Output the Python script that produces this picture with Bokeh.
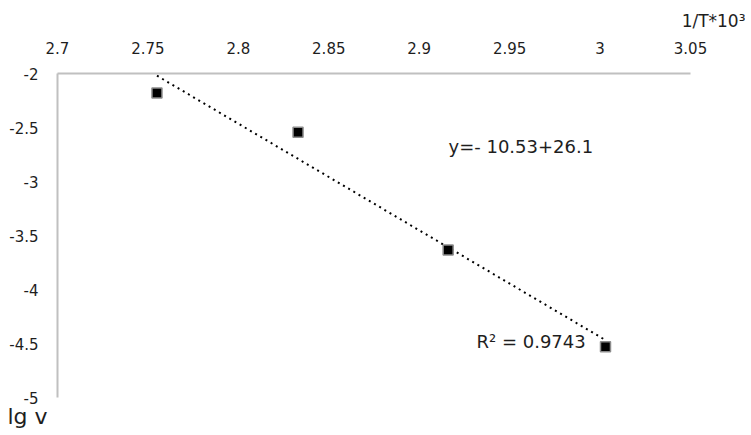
import numpy as np
from bokeh.plotting import figure
from bokeh.models import LinearAxis, FixedTicker, Label, Range1d, Title
from bokeh.embed import file_html
from bokeh.resources import INLINE

# data
inv_T = [2.755, 2.833, 2.916, 3.003]
lg_v = [-2.18, -2.545, -3.634, -4.53]
x_ticks = [2.7, 2.75, 2.8, 2.85, 2.9, 2.95, 3.0, 3.05]
x_tick_labels = ["2.7", "2.75", "2.8", "2.85", "2.9", "2.95", "3", "3.05"]
y_ticks = [-5.0, -4.5, -4.0, -3.5, -3.0, -2.5, -2.0]
y_tick_labels = ["-5", "-4.5", "-4", "-3.5", "-3", "-2.5", "-2"]
eq_text = "y=- 10.53+26.1"
r2_text = "R² = 0.9743"
x_title = "1/T*10³"
y_title = "lg v"

FONT = "DejaVu Sans"
GRAY = "#c0c0c0"
TXT = "#1e1e1e"

W, H = 745, 432
L, T, B, R = 57, 73, 398, 690  # frame edges in canvas pixels

p = figure(width=W, height=H, output_backend="svg", toolbar_location=None,
           x_range=Range1d(2.7, 3.05), y_range=Range1d(-5, -2),
           x_axis_location=None, y_axis_location=None,
           min_border_left=L, min_border_right=W - R, min_border_top=T,
           min_border_bottom=H - B)
p.outline_line_color = None
p.grid.visible = False
p.background_fill_color = "white"
p.border_fill_color = "white"

xa = LinearAxis(ticker=FixedTicker(ticks=x_ticks))
xa.major_label_overrides = dict(zip(x_ticks, x_tick_labels))
ya = LinearAxis(ticker=FixedTicker(ticks=y_ticks))
ya.major_label_overrides = dict(zip(y_ticks, y_tick_labels))
for ax in (xa, ya):
    ax.axis_line_color = GRAY
    ax.axis_line_width = 2
    ax.major_tick_line_color = None
    ax.minor_tick_line_color = None
    ax.major_tick_out = 0
    ax.major_tick_in = 0
    ax.major_label_text_font = FONT
    ax.major_label_text_font_size = "15px"
    ax.major_label_text_color = TXT
xa.major_label_standoff = 20
ya.major_label_standoff = 19
p.add_layout(xa, "above")
p.add_layout(ya, "left")

# axis titles as plot titles (outside the frame)
p.title.text = x_title
p.title.align = "right"
p.title.offset = -(W - R)
p.title.text_font = FONT
p.title.text_font_size = "17px"
p.title.text_font_style = "normal"
p.title.text_color = TXT
p.title.standoff = 16

yt = Title(text=y_title, align="left", offset=-(L - 7), text_font=FONT,
           text_font_size="22px", text_font_style="normal", text_color=TXT,
           standoff=8)
p.add_layout(yt, "below")

# linear trendline (least squares fit of the data)
k, b = np.polyfit(inv_T, lg_v, 1)
tx = [min(inv_T), max(inv_T)]
ty = [k * v + b for v in tx]
p.line(tx, ty, line_color="black", line_width=2, line_dash="2 4")

p.scatter(inv_T, lg_v, marker="square", size=10, fill_color="black",
          line_color="#8c8c8c", line_width=1.5)


def lab(text, px, py, size):
    p.add_layout(Label(x=px - L, y=B - py, x_units="screen", y_units="screen",
                       text=text, text_font=FONT, text_font_size=size,
                       text_color=TXT, text_baseline="middle"))


lab(eq_text, 448, 147, "18px")
lab(r2_text, 476, 342, "18px")

open("out.html", "w").write(file_html(p, INLINE))
